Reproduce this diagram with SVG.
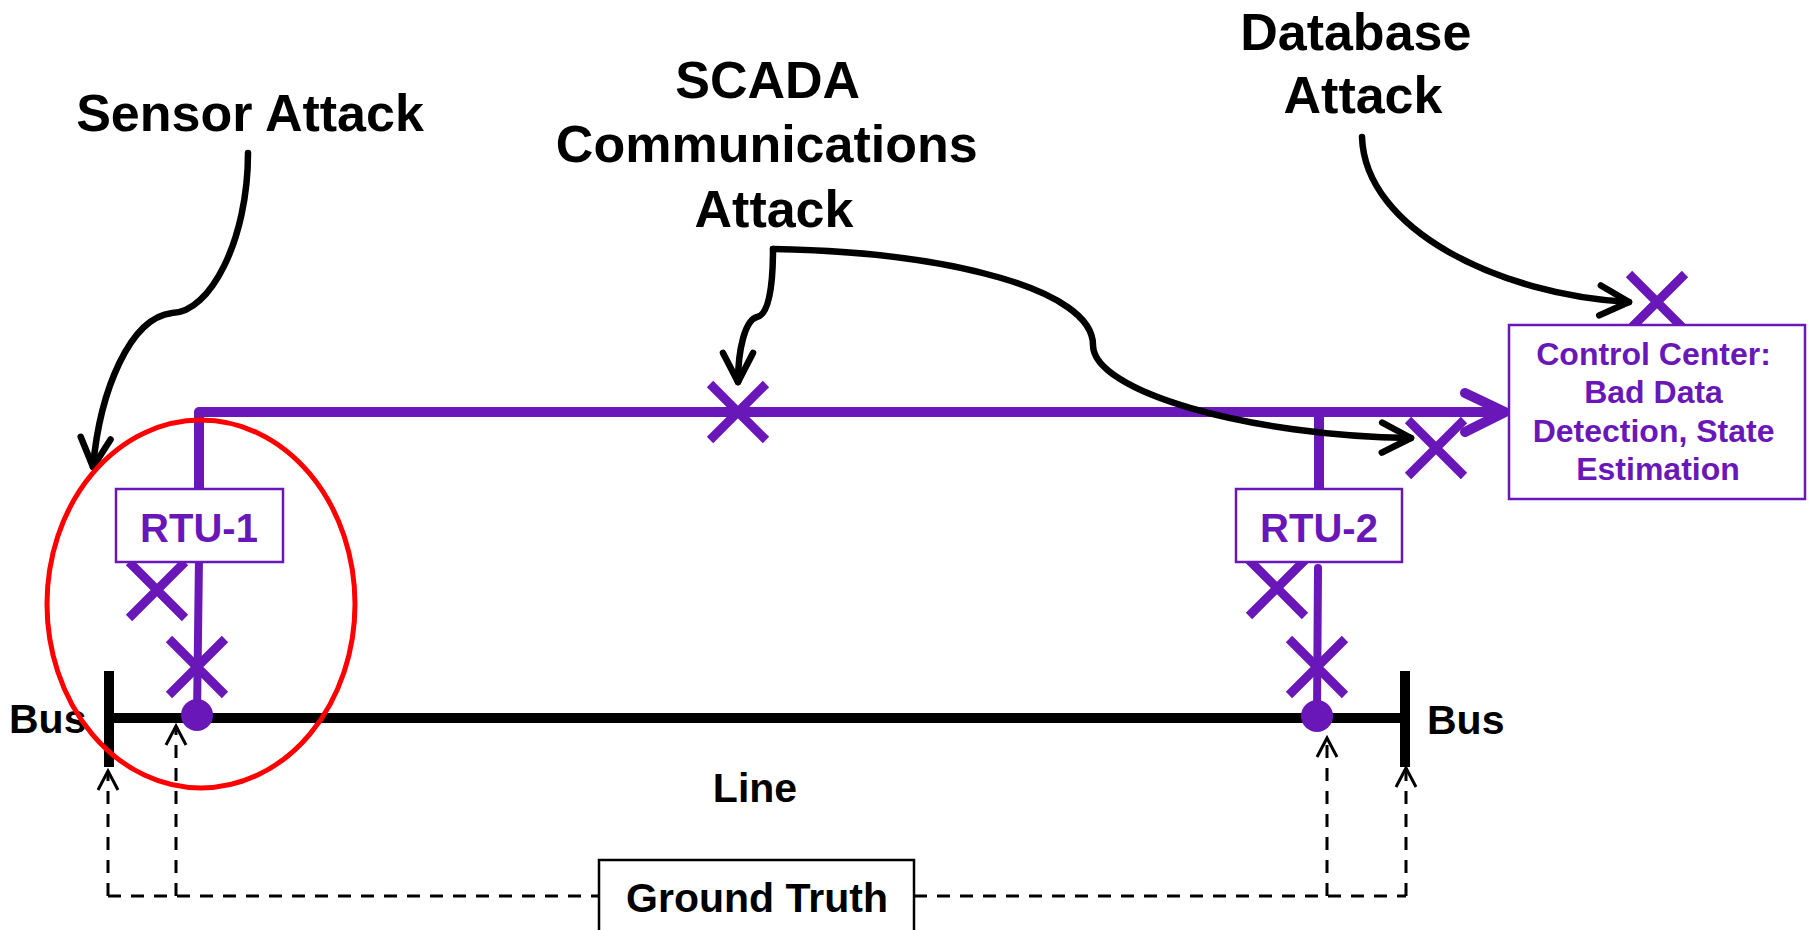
<svg xmlns="http://www.w3.org/2000/svg" xmlns:xlink="http://www.w3.org/1999/xlink" width="1810" height="930" viewBox="0 0 1810 930">
  <style>
    text { font-family: "Liberation Sans", Arial, sans-serif; font-weight: bold; }
    .head { font-size: 52px; fill: #000; text-anchor: middle; }
    .lbl { font-size: 41px; fill: #000; }
    .pl { fill: #6a17b9; text-anchor: middle; }
    .box { fill: #fff; stroke: #6a17b9; stroke-width: 2.5; }
    .comm { fill: none; stroke: #6a17b9; stroke-width: 10; stroke-linejoin: round; }
    .tap { fill: none; stroke: #6a17b9; stroke-width: 8; stroke-linecap: round; }
    .bus { fill: none; stroke: #000; stroke-width: 10; }
    .atk { fill: none; stroke: #000; stroke-width: 6.5; stroke-linecap: round; marker-end: url(#blackArrow); }
    .truth { fill: none; stroke: #000; stroke-width: 3; stroke-dasharray: 13 10; marker-end: url(#dashArrow); }
    .truthh { fill: none; stroke: #000; stroke-width: 3; stroke-dasharray: 13 10; }
  </style>
  <defs>
    <marker id="blackArrow" markerUnits="userSpaceOnUse" markerWidth="40" markerHeight="40" refX="0" refY="0" orient="auto" overflow="visible">
      <path d="M-29,-15 L0,0 L-29,15" fill="none" stroke="#000" stroke-width="6.5" stroke-linecap="round" stroke-linejoin="round"/>
    </marker>
    <marker id="dashArrow" markerUnits="userSpaceOnUse" markerWidth="30" markerHeight="30" refX="0" refY="0" orient="auto" overflow="visible">
      <path d="M-19,-10 L0,0 L-19,10" fill="none" stroke="#000" stroke-width="3" stroke-linejoin="miter"/>
    </marker>
    <!-- attack point marker -->
    <path id="xmark" d="M-28,-28 L28,28 M28,-28 L-28,28" fill="none" stroke="#6a17b9" stroke-width="9"/>
  </defs>

  <!-- transmission line between the two buses -->
  <g id="power-line">
    <line class="bus" x1="109" y1="718" x2="1405" y2="718"/>
  </g>
  <g id="bus-left">
    <line class="bus" x1="109" y1="671" x2="109" y2="767"/>
    <text class="lbl" x="9" y="733">Bus</text>
  </g>
  <g id="bus-right">
    <line class="bus" x1="1405" y1="671" x2="1405" y2="767"/>
    <text class="lbl" x="1427" y="734">Bus</text>
  </g>
  <g id="line-label">
    <text class="lbl" x="755" y="802" text-anchor="middle" font-size="42">Line</text>
  </g>

  <!-- SCADA connectors -->
  <g id="connectors">
    <!-- communication path RTUs to control center -->
    <path class="comm" d="M199,489 L199,412 L1500,412"/>
    <path class="comm" d="M1319,412 L1319,489"/>
    <path d="M1465,393 L1505,412 L1465,432" fill="none" stroke="#6a17b9" stroke-width="10" stroke-linecap="round" stroke-linejoin="miter"/>
    <!-- measurement taps -->
    <path class="tap" d="M199,558 L197,715"/>
    <path class="tap" d="M1318,568 L1317,716"/>
    <circle cx="197" cy="715" r="16" fill="#6a17b9"/>
    <circle cx="1317" cy="716" r="16" fill="#6a17b9"/>

    <!-- ground truth references -->
    <path class="truthh" d="M108,896 L599,896"/>
    <path class="truthh" d="M914,896 L1406,896"/>
    <path class="truth" d="M108,896 L108,771"/>
    <path class="truth" d="M176,896 L176,726"/>
    <path class="truth" d="M1327,896 L1327,738"/>
    <path class="truth" d="M1406,896 L1406,768"/>

    <!-- attack arrows -->
    <path class="atk" d="M248,153 C248,240 210,313 172,313 C130,318 100,390 93,467"/>
    <path class="atk" d="M773,249 C773,290 768,315 757,317 C745,320 738,350 738,382"/>
    <path class="atk" d="M773,249 C950,252 1093,290 1093,345 C1093,392 1250,436 1411,438"/>
    <path class="atk" d="M1362,137 C1365,230 1500,295 1629,302"/>
  </g>

  <!-- attack points -->
  <g id="attack-points">
    <use xlink:href="#xmark" x="738" y="412"/>
    <use xlink:href="#xmark" x="157" y="590"/>
    <use xlink:href="#xmark" x="197" y="667"/>
    <use xlink:href="#xmark" x="1277" y="588"/>
    <use xlink:href="#xmark" x="1317" y="667"/>
    <use xlink:href="#xmark" x="1436" y="448"/>
    <use xlink:href="#xmark" x="1657" y="302"/>
  </g>

  <g id="rtu-1">
    <rect class="box" x="116" y="489" width="167" height="73"/>
    <text class="pl" x="199" y="542" font-size="40">RTU-1</text>
  </g>
  <g id="rtu-2">
    <rect class="box" x="1236" y="489" width="166" height="73"/>
    <text class="pl" x="1319" y="542" font-size="40">RTU-2</text>
  </g>

  <g id="control-center">
    <rect class="box" x="1509" y="325" width="296" height="174"/>
    <text class="pl" font-size="32">
      <tspan x="1658" y="365">Control Center:</tspan>
      <tspan x="1658" y="403">Bad Data</tspan>
      <tspan x="1658" y="442">Detection, State</tspan>
      <tspan x="1658" y="480">Estimation</tspan>
    </text>
  </g>

  <g id="ground-truth">
    <rect x="599" y="860" width="315" height="90" fill="#fff" stroke="#000" stroke-width="2.5"/>
    <text class="lbl" x="757" y="912" text-anchor="middle" font-size="42">Ground Truth</text>
  </g>

  <g id="sensor-attack">
    <text class="head" x="250" y="131">Sensor Attack</text>
  </g>
  <g id="scada-attack">
    <text class="head">
      <tspan x="774" y="98">SCADA</tspan>
      <tspan x="774" y="162">Communications</tspan>
      <tspan x="774" y="227">Attack</tspan>
    </text>
  </g>
  <g id="database-attack">
    <text class="head">
      <tspan x="1363" y="50">Database</tspan>
      <tspan x="1363" y="113">Attack</tspan>
    </text>
  </g>

  <!-- region affected by sensor attack -->
  <g id="sensor-region">
    <ellipse cx="201" cy="604" rx="154" ry="184" fill="none" stroke="#ff0000" stroke-width="5"/>
  </g>
</svg>
